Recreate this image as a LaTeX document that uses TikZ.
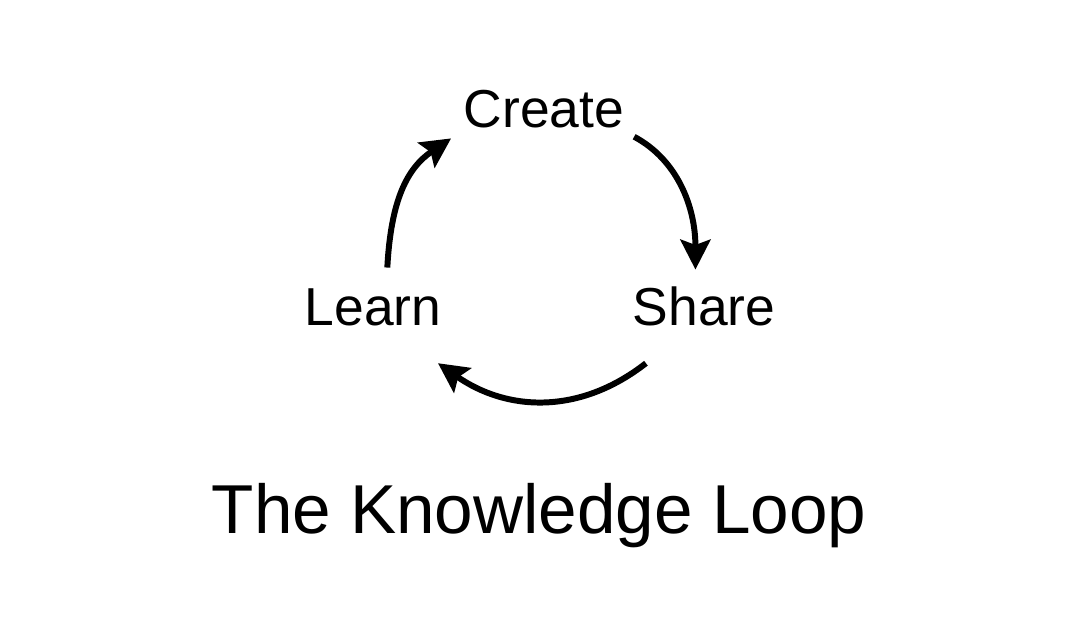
\documentclass[tikz,border=0pt]{standalone}
\usepackage{fontspec}
\setmainfont{Liberation Sans}
\usetikzlibrary{arrows.meta}

\begin{document}
\begin{tikzpicture}[
    stage/.style={inner xsep=0pt, inner ysep=0.2cm, anchor=base, font=\fontsize{15.2}{18}\selectfont},
    arrow/.style={-{Stealth[length=8.5pt,width=8.5pt,inset=1.5pt]}, line width=1.7pt}
]
    \useasboundingbox (0,0) rectangle (10.8,6.4);
    \node[stage] (create) at (5.44,5.13) {Create};
    \node[stage] (share) at (7.04,3.15) {Share};
    \node[stage] (learn) at (3.73,3.15) {Learn};
    \node[anchor=base, inner sep=0pt, font=\fontsize{19.7}{23}\selectfont] (title) at (5.39,1.07) {The Knowledge Loop};

    \draw[arrow, shorten <=0.105cm, shorten >=-0.04cm] (create.344) to[out=-28, in=90] (share.102);
    \draw[arrow, shorten <=0.276cm, shorten >=0.296cm] (share.228) to[out=218, in=-35, looseness=1.14] (learn.316);
    \draw[arrow, shorten >=0.145cm] (learn.70) to[out=87, in=214, looseness=1.1] (create.195);
\end{tikzpicture}
\end{document}
